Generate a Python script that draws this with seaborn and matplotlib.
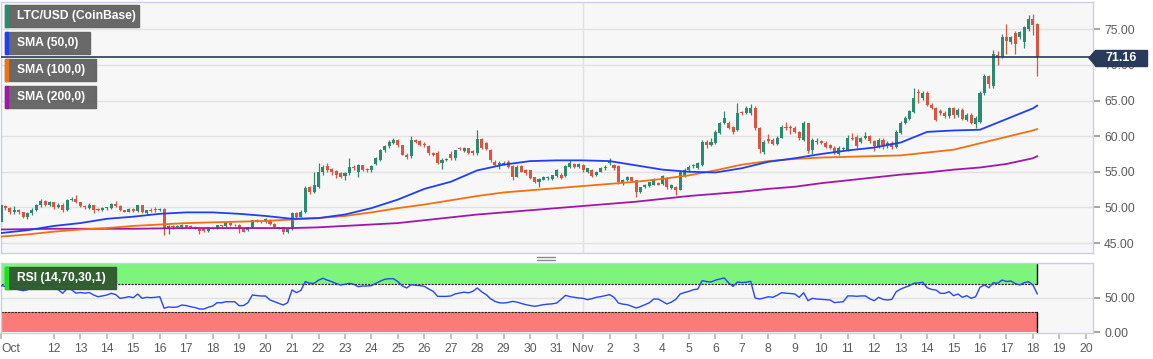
import numpy as np
import pandas as pd
import matplotlib
matplotlib.use('Agg')
import matplotlib.pyplot as plt
import matplotlib.dates as mdates
from matplotlib.patches import Rectangle, Polygon
from matplotlib.lines import Line2D
import seaborn as sns

# LTC/USD (Coinbase), 4h candles, Oct 10 - Nov 18 2020, one row per day (6 candles)
open_ = [48.0, 50.2, 49.9, 49.3, 49.7, 49.3,
         48.7, 49.2, 49.7, 50.3, 50.9, 50.4,
         50.7, 50.0, 50.4, 49.6, 51.0, 51.2,
         50.7, 50.2, 49.9, 50.3, 49.8, 49.6,
         49.9, 49.9, 50.5, 50.2, 49.6, 49.4,
         49.8, 49.5, 50.3, 49.2, 49.7, 49.8,
         49.6, 49.8, 47.1, 47.4, 47.2, 47.2,
         47.5, 47.4, 47.3, 47.1, 46.9, 46.7,
         47.0, 47.1, 47.5, 47.4, 47.8, 47.5,
         47.6, 46.9, 46.8, 47.2, 48.2, 48.0,
         47.9, 48.3, 47.7, 47.2, 47.2, 46.5,
         46.9, 49.2, 48.7, 49.3, 52.8, 52.2,
         52.9, 54.9, 55.8, 55.4, 55.1, 54.8,
         54.4, 54.8, 55.7, 55.0, 55.9, 55.4,
         55.3, 56.1, 56.7, 58.0, 58.6, 59.1,
         59.4, 58.7, 57.4, 57.2, 59.4, 59.3,
         58.9, 58.6, 57.7, 57.7, 56.3, 56.7,
         57.5, 56.9, 58.3, 57.9, 58.3, 57.9,
         57.6, 59.6, 59.0, 58.1, 56.4, 56.0,
         56.1, 56.4, 55.8, 54.3, 55.8, 55.2,
         55.2, 54.2, 53.5, 53.9, 54.1, 54.0,
         54.4, 54.6, 54.4, 55.7, 56.1, 55.7,
         55.9, 54.9, 55.3, 54.5, 55.0, 55.5,
         56.3, 56.0, 55.8, 53.4, 53.8, 54.2,
         53.8, 52.2, 52.8, 53.0, 53.2, 53.4,
         53.3, 54.1, 52.7, 52.9, 52.5, 54.5,
         55.2, 55.8, 55.6, 56.0, 59.2, 58.8,
         59.1, 60.5, 61.9, 61.9, 61.3, 60.9,
         63.4, 63.3, 63.2, 64.0, 61.1, 57.8,
         59.6, 59.5, 58.9, 59.8, 61.3, 61.3,
         61.2, 60.6, 59.5, 61.8, 58.0, 59.2,
         59.3, 59.1, 58.8, 58.4, 57.5, 58.2,
         58.1, 59.8, 59.9, 59.2, 59.8, 60.0,
         59.3, 58.6, 59.5, 58.6, 59.1, 58.5,
         60.5, 61.9, 62.4, 63.4, 66.2, 65.3,
         66.1, 64.4, 64.0, 63.6, 63.3, 62.8,
         63.9, 62.9, 63.7, 62.3, 63.0, 61.7,
         62.0, 66.1, 68.4, 67.0, 71.4, 71.1,
         73.9, 73.2, 74.5, 73.9, 73.2, 75.0,
         76.4, 75.7]
high = [50.5, 50.4, 50.0, 50.2, 49.8, 49.4,
        49.4, 49.9, 50.5, 51.2, 51.0, 50.9,
        50.8, 50.6, 50.6, 51.2, 51.5, 51.7,
        50.8, 50.3, 50.6, 50.4, 49.9, 50.1,
        50.1, 50.6, 50.9, 50.3, 49.7, 49.9,
        49.9, 50.4, 50.4, 49.7, 49.9, 50.0,
        49.9, 49.9, 47.6, 47.5, 47.5, 47.7,
        47.6, 47.5, 47.4, 47.2, 47.0, 47.2,
        47.2, 47.6, 47.6, 47.9, 47.9, 47.7,
        47.7, 47.0, 47.3, 48.3, 48.4, 48.1,
        48.5, 48.4, 47.8, 47.3, 47.3, 47.1,
        49.4, 49.3, 49.6, 53.0, 53.0, 55.0,
        56.3, 56.0, 56.2, 55.6, 55.3, 54.9,
        55.0, 57.0, 55.9, 56.1, 56.0, 55.6,
        55.9, 57.1, 58.2, 58.8, 59.4, 59.7,
        59.6, 58.8, 57.6, 60.0, 59.6, 59.4,
        59.2, 58.7, 57.8, 57.9, 56.9, 57.0,
        57.9, 58.1, 58.5, 58.5, 58.4, 58.0,
        60.9, 59.8, 59.2, 58.2, 56.6, 56.5,
        56.5, 56.6, 55.9, 55.9, 55.9, 55.4,
        55.3, 54.3, 54.1, 54.4, 54.4, 54.6,
        55.4, 54.8, 55.9, 56.7, 56.2, 56.3,
        56.1, 55.6, 55.4, 55.1, 55.7, 55.9,
        57.0, 56.1, 55.9, 54.0, 54.4, 54.3,
        53.9, 52.9, 53.3, 53.6, 54.1, 53.5,
        54.5, 54.3, 53.3, 53.0, 55.2, 55.6,
        55.9, 56.1, 56.4, 59.4, 59.4, 59.8,
        60.8, 62.0, 63.6, 62.1, 61.4, 64.7,
        63.6, 64.3, 64.5, 64.3, 61.3, 59.5,
        60.3, 59.7, 60.0, 61.5, 62.0, 61.5,
        61.4, 60.7, 62.1, 61.9, 59.7, 59.8,
        59.5, 59.3, 58.9, 58.6, 58.6, 58.5,
        60.1, 60.5, 60.1, 59.9, 60.6, 60.1,
        59.4, 59.7, 59.8, 59.3, 59.3, 60.8,
        62.1, 62.8, 63.7, 66.7, 66.6, 66.3,
        66.3, 64.6, 64.1, 63.8, 63.5, 64.1,
        64.1, 63.9, 63.9, 63.2, 63.3, 62.8,
        66.3, 68.7, 68.6, 72.1, 72.0, 74.3,
        75.8, 74.1, 74.7, 74.8, 75.5, 77.0,
        77.1, 75.9]
low = [47.8, 49.7, 49.1, 49.1, 49.1, 48.5,
       48.4, 49.0, 49.5, 50.1, 50.2, 50.2,
       49.8, 49.9, 49.4, 49.5, 50.9, 50.6,
       50.0, 49.8, 49.8, 49.2, 49.5, 49.5,
       49.7, 49.8, 50.1, 49.5, 49.3, 49.3,
       49.4, 49.4, 49.2, 49.1, 49.3, 49.4,
       49.5, 46.1, 46.2, 47.0, 47.1, 47.1,
       47.2, 47.1, 46.9, 46.3, 46.6, 46.6,
       46.9, 47.0, 47.3, 47.3, 47.4, 47.4,
       46.4, 46.5, 46.7, 47.1, 47.9, 47.8,
       47.8, 47.6, 47.1, 46.9, 46.3, 46.4,
       46.8, 48.5, 48.6, 49.2, 51.9, 52.0,
       52.7, 54.6, 55.0, 54.5, 54.1, 54.1,
       53.9, 54.6, 55.3, 54.3, 55.1, 55.0,
       55.0, 55.9, 56.5, 57.8, 58.4, 58.9,
       58.5, 57.3, 56.8, 57.0, 59.0, 58.6,
       58.5, 57.4, 57.2, 56.1, 55.4, 56.5,
       56.7, 56.7, 58.0, 57.8, 57.5, 57.4,
       57.4, 58.2, 58.0, 56.4, 55.8, 55.4,
       55.9, 55.5, 53.9, 54.2, 54.9, 54.6,
       54.0, 53.4, 52.9, 53.8, 53.9, 53.9,
       54.3, 54.0, 54.3, 55.5, 55.5, 55.6,
       55.0, 54.8, 54.2, 54.4, 54.9, 55.3,
       55.9, 55.3, 53.3, 53.2, 53.7, 53.5,
       51.4, 52.0, 52.7, 52.9, 53.1, 53.1,
       53.2, 52.6, 52.6, 51.7, 52.4, 54.3,
       55.0, 55.6, 55.4, 55.8, 58.4, 58.6,
       58.9, 60.3, 61.7, 61.0, 60.3, 60.7,
       63.0, 63.1, 63.0, 60.8, 57.6, 57.5,
       59.1, 58.7, 58.7, 59.7, 60.9, 60.3,
       60.4, 59.5, 59.3, 57.7, 57.5, 58.9,
       58.9, 58.4, 58.2, 57.5, 57.3, 58.0,
       57.9, 59.4, 58.3, 59.0, 59.6, 59.1,
       57.9, 58.4, 58.2, 58.4, 58.2, 58.3,
       60.3, 61.7, 62.2, 63.2, 64.7, 65.1,
       64.2, 63.8, 62.1, 63.0, 62.5, 62.6,
       62.6, 62.7, 62.2, 62.1, 61.7, 61.2,
       61.8, 65.8, 66.8, 66.8, 70.0, 70.9,
       71.6, 73.0, 71.6, 73.7, 72.4, 74.8,
       74.2, 68.4]
close = [50.3, 49.9, 49.3, 49.7, 49.3, 48.7,
         49.2, 49.7, 50.3, 50.9, 50.4, 50.7,
         50.0, 50.4, 49.6, 51.1, 51.2, 50.7,
         50.2, 50.0, 50.4, 49.7, 49.6, 49.9,
         50.0, 50.5, 50.2, 49.6, 49.4, 49.8,
         49.5, 50.3, 49.4, 49.6, 49.5, 49.6,
         49.8, 47.1, 47.4, 47.2, 47.4, 47.5,
         47.3, 47.2, 47.1, 46.7, 46.7, 47.1,
         47.1, 47.5, 47.4, 47.8, 47.5, 47.6,
         46.9, 46.6, 47.2, 48.2, 48.0, 47.9,
         48.4, 47.7, 47.2, 47.0, 46.5, 47.0,
         49.2, 48.7, 49.3, 52.7, 52.2, 53.1,
         54.9, 55.7, 55.2, 54.9, 54.5, 54.3,
         54.8, 55.7, 55.5, 55.9, 55.3, 55.2,
         55.8, 57.0, 58.0, 58.6, 59.2, 59.5,
         58.7, 57.4, 57.1, 59.5, 59.2, 58.8,
         58.7, 57.6, 57.4, 56.3, 56.7, 56.8,
         56.9, 58.0, 58.2, 58.3, 57.7, 57.6,
         59.6, 58.4, 58.2, 56.6, 56.0, 56.3,
         56.3, 55.7, 54.3, 55.7, 55.0, 54.8,
         54.1, 53.6, 54.0, 54.2, 54.2, 54.5,
         55.3, 54.1, 55.8, 56.2, 55.7, 56.1,
         55.2, 55.5, 54.4, 55.0, 55.6, 55.7,
         56.4, 55.5, 53.5, 53.9, 54.2, 53.7,
         52.2, 52.8, 53.2, 53.5, 54.0, 53.2,
         54.4, 52.8, 53.2, 52.5, 55.0, 55.3,
         55.7, 55.9, 56.2, 59.2, 58.8, 59.2,
         60.6, 61.8, 62.6, 61.2, 60.6, 63.3,
         63.2, 64.0, 64.0, 61.1, 58.2, 59.2,
         59.3, 58.9, 59.8, 61.3, 61.1, 61.1,
         60.6, 59.7, 61.8, 57.9, 59.5, 59.2,
         59.1, 58.5, 58.4, 57.7, 58.4, 58.3,
         59.8, 59.6, 58.6, 59.8, 60.0, 59.3,
         58.6, 59.5, 58.7, 59.1, 58.5, 60.6,
         61.9, 62.6, 63.5, 65.3, 66.0, 66.1,
         64.4, 64.0, 62.3, 63.2, 62.8, 63.9,
         62.9, 63.7, 62.4, 63.0, 61.9, 62.6,
         66.1, 68.4, 67.3, 71.5, 71.1, 73.9,
         73.3, 73.9, 72.9, 74.6, 75.3, 76.4,
         75.6, 71.16]

# RSI (14) per candle
rsi = [68, 67, 66.5, 64.5, 62, 60.7,
       62, 66, 67.5, 68.5, 69, 70,
       65.5, 62, 56.8, 64, 62, 57,
       58, 57, 58, 54.4, 51.9, 53,
       54.4, 56.8, 55, 49.5, 50.5, 51.9,
       50.5, 55.8, 49.5, 51, 50.5, 51,
       51.9, 35, 37, 36.4, 37, 39.8,
       39, 37.3, 36, 34, 33.9, 36.5,
       38.3, 43.2, 43, 44.6, 44.6, 44.5,
       38.8, 39, 43.2, 54.4, 53.5, 52.9,
       52.9, 47.1, 44.6, 42.2, 39.8, 43.2,
       61.7, 57.8, 61, 73.8, 71.5, 71.4,
       76, 78.7, 76, 73.8, 71, 68.9,
       70, 71.4, 70, 66.5, 67.5, 67.5,
       68, 71.4, 74.5, 77.3, 78, 78.2,
       73.8, 67.5, 64.6, 69.4, 68.5, 68,
       67, 63, 59.7, 52.4, 52.4, 52.4,
       53, 56, 57.3, 58.5, 57.5, 59.7,
       64.6, 59, 54.9, 49, 45.1, 43,
       42.7, 43.5, 45.1, 44, 42, 40.3,
       39, 37.9, 39, 40.3, 41, 41.5,
       42.7, 48, 53.9, 52, 51, 50,
       49.5, 47.6, 49, 51, 52, 53.5,
       54.9, 51, 42.7, 41, 40.3, 38,
       35.4, 37.5, 40.3, 43, 48.5, 48.5,
       45, 41.3, 44, 48, 55.8, 58,
       59.7, 62.1, 63, 75.3, 74, 73.3,
       76, 77.7, 79.2, 72, 67, 73.3,
       72.5, 73, 74.3, 50, 48.5, 50,
       51.9, 51, 54, 57.7, 57, 56.5,
       55.8, 51, 57.7, 46.1, 49.5, 48.5,
       48, 47.5, 47.1, 43.2, 44, 44.6,
       53, 53, 52.5, 53, 53, 49,
       46, 51, 48, 47.1, 48, 59.2,
       63, 65.6, 68, 71.4, 72, 72.9,
       65, 62.5, 61.7, 56.8, 56.8, 59.2,
       53.4, 55.8, 51, 53.4, 49.5, 51.9,
       65.6, 69, 65, 72.3, 71.4, 76.2,
       74, 74.8, 71, 69, 72.3, 73.8,
       69, 55.8]

# moving averages, read once a day (midnight) plus the last candle
sma50 = [46.4, 46.8, 47.4, 47.8, 48.4, 48.7, 49.1, 49.3, 49.3, 49.1,
         48.8, 48.4, 48.5, 49.0, 49.9, 51.1, 52.6, 53.6, 55.2, 56.0,
         56.5, 56.6, 56.6, 56.5, 55.9, 55.3, 55.0, 54.9, 55.5, 56.4,
         56.9, 57.5, 58.0, 58.4, 59.1, 60.6, 60.8, 60.9, 62.4, 63.9, 64.3]
sma100 = [45.9, 46.2, 46.6, 46.9, 47.1, 47.4, 47.6, 47.8, 47.9, 48.0,
          48.1, 48.3, 48.5, 48.8, 49.3, 49.9, 50.4, 51.0, 51.6, 52.1,
          52.4, 52.7, 53.0, 53.3, 53.6, 54.0, 54.5, 55.2, 56.0, 56.5,
          56.8, 57.0, 57.1, 57.2, 57.3, 57.7, 58.1, 59.0, 59.9, 60.8, 61.0]
sma200 = [46.9, 46.95, 47.0, 47.0, 47.0, 47.0, 47.05, 47.1, 47.1, 47.1,
          47.1, 47.1, 47.2, 47.4, 47.6, 47.8, 48.2, 48.6, 49.0, 49.3,
          49.6, 49.9, 50.2, 50.5, 50.8, 51.2, 51.6, 51.9, 52.2, 52.6,
          52.9, 53.4, 53.8, 54.2, 54.6, 54.9, 55.3, 55.6, 56.1, 56.9, 57.2]

last_price = 71.16
price_ticks = [45, 50, 55, 60, 65, 70, 75]
rsi_ticks = [0, 50]

GREEN = '#2b8a6f'
RED = '#dc5440'
BLUE = '#1f3ff5'
ORANGE = '#f2700f'
PURPLE = '#a416a8'
NAVY = '#293a5a'
BG = '#f7f7f7'
EDGE = '#c8d0e2'
GRID = '#e2e2e2'

times = pd.date_range('2020-10-10', periods=len(close), freq='4h')
tnum = mdates.date2num(times)
sma_times = list(pd.date_range('2020-10-10', '2020-11-18', freq='D')) + [times[-1]]
snum = mdates.date2num(sma_times)

df = pd.DataFrame({'t': tnum, 'open': open_, 'high': high, 'low': low,
                   'close': close, 'rsi': rsi})
sma = pd.DataFrame({'t': snum, 'sma50': sma50, 'sma100': sma100, 'sma200': sma200})

sns.set_theme(style='white')
plt.rcParams['font.family'] = ['Liberation Sans', 'DejaVu Sans']

W, H = 1153, 359
fig = plt.figure(figsize=(W / 100, H / 100), dpi=100)
fig.patch.set_facecolor('white')


def fx(px):
    return px / W


def fy(py):
    return 1 - py / H


ax = fig.add_axes([fx(1), fy(253), fx(1092), (253 - 1.5) / H])
ax2 = fig.add_axes([fx(1), fy(333), fx(1092), 70 / H])

x0 = mdates.date2num(pd.Timestamp('2020-10-10'))
x1 = x0 + 1092 / 26.46

for a in (ax, ax2):
    a.set_facecolor(BG)
    for s in a.spines.values():
        s.set_color(EDGE)
        s.set_linewidth(1)
    a.set_xlim(x0, x1)
    a.yaxis.tick_right()
    a.tick_params(axis='y', length=5, color='#9a9a9a', labelsize=8.7,
                  labelcolor='#5a5a5a', pad=3, right=True, left=False)
    a.axvline(mdates.date2num(pd.Timestamp('2020-11-01')), color=GRID, lw=1, zorder=0)

# main price panel
ax.set_ylim(43.6, 78.9)
ax.set_yticks(price_ticks)
ax.set_yticklabels([f'{v:.2f}' for v in price_ticks])
for v in price_ticks:
    ax.axhline(v, color=GRID, lw=1, zorder=0)
ax.set_xticks([])

up = df['close'] >= df['open']
cols = np.where(up, GREEN, RED)
ax.vlines(df['t'], df['low'], df['high'], colors=cols, lw=0.9, zorder=2)
body_lo = df[['open', 'close']].min(axis=1)
body_h = (df['close'] - df['open']).abs().clip(lower=0.1)
ax.bar(df['t'], body_h, bottom=body_lo, width=0.115, color=cols, linewidth=0, zorder=3)

sns.lineplot(data=sma, x='t', y='sma200', ax=ax, color=PURPLE, lw=1.3, zorder=4)
sns.lineplot(data=sma, x='t', y='sma100', ax=ax, color=ORANGE, lw=1.3, zorder=4)
sns.lineplot(data=sma, x='t', y='sma50', ax=ax, color=BLUE, lw=1.3, zorder=4)
ax.set_xlabel('')
ax.set_ylabel('')

ax.axhline(last_price, color=NAVY, lw=1.2, zorder=5)

# RSI panel
ax2.set_ylim(-1, 101)
ax2.set_yticks(rsi_ticks)
ax2.set_yticklabels([f'{v:.2f}' for v in rsi_ticks])
ax2.axhline(50, color=GRID, lw=1, zorder=0)
t_end = df['t'].iloc[-1]
ax2.fill_between([x0, t_end], 70, 100, color='#7df57d', lw=0, zorder=1)
ax2.fill_between([x0, t_end], 0, 30, color='#fa7b78', lw=0, zorder=1)
ax2.plot([x0, t_end], [70, 70], color='#222222', lw=0.8, ls=(0, (2, 1)), zorder=2)
ax2.plot([x0, t_end], [30, 30], color='#222222', lw=0.8, ls=(0, (2, 1)), zorder=2)
ax2.plot([t_end, t_end], [70, 100], color='black', lw=1, zorder=2)
ax2.plot([t_end, t_end], [0, 30], color='black', lw=1, zorder=2)
sns.lineplot(data=df, x='t', y='rsi', ax=ax2, color='#2448f0', lw=1, zorder=3)
ax2.set_xlabel('')
ax2.set_ylabel('')

days = pd.date_range('2020-10-12', '2020-11-20', freq='D')
xt = [x0] + list(mdates.date2num(days))
xl = ['Oct'] + ['Nov' if d.day == 1 else str(d.day) for d in days]
ax2.set_xticks(xt)
ax2.set_xticklabels(xl)
ax2.tick_params(axis='x', bottom=True, length=4, color='#b8b8b8', labelsize=8.7,
                labelcolor='#5a5a5a', pad=3)
ax2.get_xticklabels()[0].set_horizontalalignment('left')

# price tag on the right (covers the top of the 70.00 label, as in the original)
fig.add_artist(Polygon([(fx(1089), fy(58)), (fx(1095), fy(51)), (fx(1095), fy(65))],
                       closed=True, transform=fig.transFigure, color=NAVY))
fig.add_artist(Rectangle((fx(1095), fy(65.5)), fx(52), 15 / H,
                         transform=fig.transFigure, color=NAVY))
fig.text(fx(1121), fy(58), f'{last_price:.2f}', color='white', fontsize=9,
         fontweight='bold', ha='center', va='center')

# legend boxes
legend = [('LTC/USD (CoinBase)', GREEN, 5, 139, '#646464'),
          ('SMA (50,0)', BLUE, 32, 90, '#646464'),
          ('SMA (100,0)', ORANGE, 59, 96, '#646464'),
          ('SMA (200,0)', PURPLE, 86, 96, '#646464'),
          ('RSI (14,70,30,1)', '#1ee01e', 267, 116, '#2f5a2f')]
for label, c, top, right, fc in legend:
    fig.add_artist(Rectangle((fx(5), fy(top + 22)), fx(right - 5), 22 / H,
                             transform=fig.transFigure, color=fc, alpha=0.97, zorder=10))
    fig.add_artist(Rectangle((fx(5), fy(top + 22)), fx(3), 22 / H,
                             transform=fig.transFigure, color=c, zorder=11))
    fig.text(fx(17), fy(top + 11), label, color='white', fontsize=8.7,
             fontweight='bold', ha='left', va='center', zorder=12)

# splitter handle between panels
for yy in (256.5, 259.5):
    fig.add_artist(Line2D([fx(537), fx(555)], [fy(yy), fy(yy)],
                          transform=fig.transFigure, color='#8a8a8a', lw=1))

fig.savefig('out.png', dpi=100, facecolor='white')
